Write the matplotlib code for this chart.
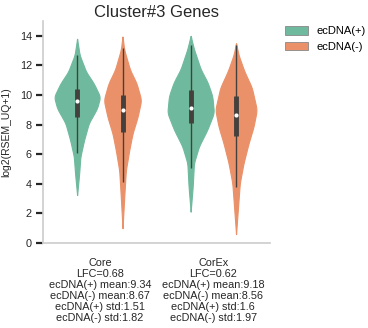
import matplotlib
matplotlib.use('Agg')
import matplotlib.pyplot as plt
import matplotlib.patches as mpatches
import numpy as np

plt.rcParams['font.family'] = ['Liberation Sans', 'DejaVu Sans']

# categories and hue groups
categories = ['Core', 'CorEx']
groups = ['ecDNA(+)', 'ecDNA(-)']
colors = ['#6fba9e', '#ea9169']

# summary stats shown under each category
lfc = [0.68, 0.62]
mean_pos = [9.34, 9.18]
mean_neg = [8.67, 8.56]
std_pos = [1.51, 1.6]
std_neg = [1.82, 1.97]

# violin outlines: y values and half-widths (category units)
core_pos_y = [3.24, 4.7, 5.85, 6.98, 8.1, 9.1, 9.88, 10.78, 11.57, 12.7, 13.8]
core_pos_w = [0.0, 0.018, 0.029, 0.062, 0.103, 0.176, 0.203, 0.147, 0.079, 0.022, 0.0]
core_neg_y = [1.0, 3.1, 4.9, 6.27, 7.4, 8.5, 9.66, 10.8, 11.7, 13.05, 13.95]
core_neg_w = [0.0, 0.015, 0.029, 0.059, 0.088, 0.132, 0.165, 0.123, 0.066, 0.015, 0.0]
corex_pos_y = [2.12, 3.8, 5.4, 6.53, 7.66, 8.8, 9.93, 10.84, 11.75, 13.1, 14.0]
corex_pos_w = [0.0, 0.018, 0.029, 0.073, 0.147, 0.205, 0.191, 0.15, 0.088, 0.029, 0.0]
corex_neg_y = [0.6, 2.5, 4.05, 5.4, 6.73, 7.86, 9.0, 10.5, 11.6, 12.7, 13.5]
corex_neg_w = [0.0, 0.018, 0.033, 0.066, 0.11, 0.154, 0.183, 0.139, 0.073, 0.022, 0.0]

# box stats: whisker low, q1, median, q3, whisker high
core_pos_box = [6.08, 8.5, 9.6, 10.4, 12.7]
core_neg_box = [4.14, 7.52, 8.99, 10.0, 13.15]
corex_pos_box = [5.05, 8.13, 9.14, 10.34, 13.4]
corex_neg_box = [3.8, 7.23, 8.65, 9.93, 13.4]

violins = [
    [(core_pos_y, core_pos_w, core_pos_box), (core_neg_y, core_neg_w, core_neg_box)],
    [(corex_pos_y, corex_pos_w, corex_pos_box), (corex_neg_y, corex_neg_w, corex_neg_box)],
]

fig = plt.figure(figsize=(3.68, 3.28), dpi=100)
ax = fig.add_axes([0.117, 0.259, 0.617, 0.677])

offsets = [-0.2, 0.2]
for i, cat in enumerate(violins):
    for j, (ys, ws, box) in enumerate(cat):
        x0 = i + offsets[j]
        ys = np.array(ys)
        ws = np.array(ws)
        # smooth outline through the read points
        yy = np.linspace(ys[0], ys[-1], 200)
        ww = np.interp(yy, ys, ws)
        k = np.ones(9) / 9
        ww = np.convolve(np.pad(ww, 4, mode='edge'), k, mode='valid')
        ww[0] = ww[-1] = 0
        ax.fill_betweenx(yy, x0 - ww, x0 + ww, color=colors[j], lw=0.8,
                         edgecolor=colors[j])
        ax.plot([x0, x0], [box[0], box[4]], color='#44403d', lw=1.0,
                solid_capstyle='butt')
        ax.plot([x0, x0], [box[1], box[3]], color='#44403d', lw=3.5,
                solid_capstyle='butt')
        ax.scatter([x0], [box[2]], s=4, color='white', zorder=3)

labels = []
for i, c in enumerate(categories):
    labels.append(f'{c}\nLFC={lfc[i]}\necDNA(+) mean:{mean_pos[i]}\n'
                  f'ecDNA(-) mean:{mean_neg[i]}\necDNA(+) std:{std_pos[i]}\n'
                  f'ecDNA(-) std:{std_neg[i]}')

ax.set_xlim(-0.5, 1.5)
ax.set_ylim(0, 15)
ax.set_xticks(range(len(categories)))
ax.set_xticklabels(labels, fontsize=7.8, linespacing=1.12, color='#262626')
ax.tick_params(axis='x', length=0, pad=11)
ax.set_yticks(range(0, 15, 2))
ax.tick_params(axis='y', length=5, width=1.6, color='#262626', labelsize=7.8,
               labelcolor='#262626', pad=3)
ax.set_ylabel('log2(RSEM_UQ+1)', fontsize=7.5, color='#262626', labelpad=6)
ax.set_title('Cluster#3 Genes', fontsize=12, color='#262626', pad=3)

for s in ['top', 'right']:
    ax.spines[s].set_visible(False)
for s in ['left', 'bottom']:
    ax.spines[s].set_color('#cccccc')
    ax.spines[s].set_linewidth(1.2)

handles = [mpatches.Patch(facecolor=colors[k], edgecolor='#888888', lw=0.6,
                          label=groups[k]) for k in range(2)]
fig.legend(handles=handles, loc='upper left', bbox_to_anchor=(0.762, 0.935),
           frameon=False, fontsize=8, handlelength=2.1, handleheight=0.85,
           labelspacing=0.5, handletextpad=0.75, borderaxespad=0)

fig.savefig('out.png', dpi=100)
